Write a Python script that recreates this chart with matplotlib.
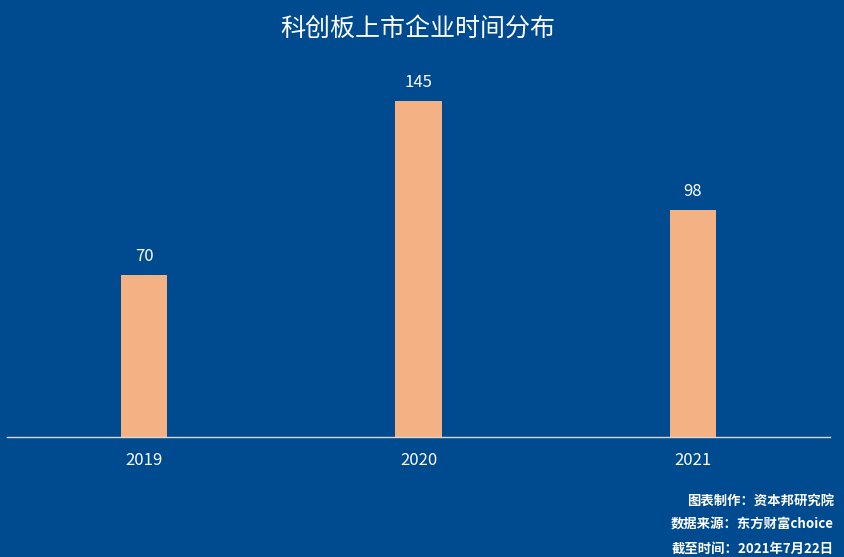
import matplotlib
matplotlib.use("Agg")
import matplotlib.pyplot as plt

plt.rcParams['font.family'] = ['Noto Sans CJK SC', 'DejaVu Sans']

categories = ["2019", "2020", "2021"]
values = [70, 145, 98]
title = "科创板上市企业时间分布"
footer = ["图表制作：资本邦研究院", "数据来源：东方财富choice", "截至时间：2021年7月22日"]

bg = "#004A8F"
bar_color = "#F4B183"

W, H = 845, 557
fig = plt.figure(figsize=(W / 100, H / 100), dpi=100, facecolor=bg)
ax = fig.add_axes([7 / W, (H - 437) / H, 823 / W, 377 / H])
ax.set_facecolor(bg)

x = range(len(categories))
bars = ax.bar(x, values, width=0.168, color=bar_color, zorder=2)
ax.set_xlim(-0.5, len(categories) - 0.5)
ax.set_ylim(0, 377 / 2.317)

for xi, v in zip(x, values):
    ax.annotate(str(v), (xi, v), xytext=(0, 7), textcoords="offset points",
                ha="center", va="bottom", color="white", fontsize=12)

ax.set_xticks(list(x))
ax.set_xticklabels(categories, color="white", fontsize=12)
ax.tick_params(axis="x", length=0, pad=11)
ax.set_yticks([])
for s in ["top", "right", "left"]:
    ax.spines[s].set_visible(False)
ax.spines["bottom"].set_color("#D9D9D9")
ax.spines["bottom"].set_linewidth(1.0)

fig.text(417.5 / W, 1 - 28.5 / H, title, ha="center", va="center", color="white",
         fontsize=18, fontweight="medium")

ys = [501, 525, 549]
for t, y in zip(footer, ys):
    fig.text(834 / W, 1 - y / H, t, ha="right", va="center", color="white",
             fontsize=9.6, fontweight="bold")

fig.savefig("out.png", dpi=100, facecolor=bg)
